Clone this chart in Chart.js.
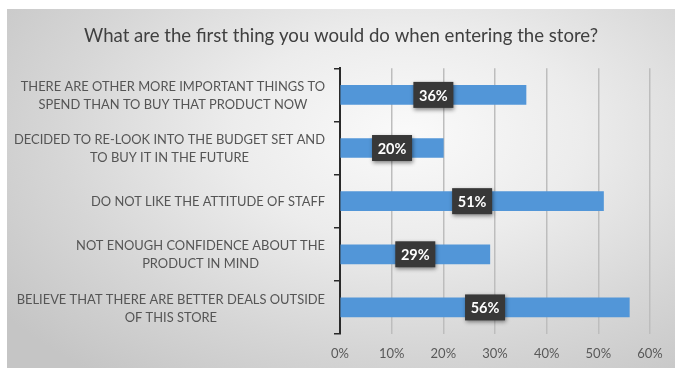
<!DOCTYPE html>
<html>
<head>
<meta charset="utf-8">
<script src="https://cdn.jsdelivr.net/npm/chart.js@4.4.1/dist/chart.umd.min.js"></script>
<style>
  html, body { margin: 0; padding: 0; background: #ffffff; }
  #wrap { position: relative; width: 675px; height: 368px; background: #ffffff; overflow: hidden; }
  #bg { position: absolute; left: 7px; top: 9px; right: 0; bottom: 0;
        background: radial-gradient(ellipse 75% 85% at 60% 35%, #fafafa 0%, #ececec 35%, #d6d6d6 70%, #c5c5c5 100%); }
  #c { position: absolute; left: 0; top: 0; }
</style>
</head>
<body>
<div id="wrap">
  <div id="bg"></div>
  <canvas id="c" width="675" height="368"></canvas>
</div>
<script>
const titleText = 'What are the first thing you would do when entering the store?';
const categories = [
  ['THERE ARE OTHER MORE IMPORTANT THINGS TO', 'SPEND THAN TO BUY THAT PRODUCT NOW'],
  ['DECIDED TO RE-LOOK INTO THE BUDGET SET AND', 'TO BUY IT IN THE FUTURE'],
  ['DO NOT LIKE THE ATTITUDE OF STAFF'],
  ['NOT ENOUGH CONFIDENCE ABOUT THE', 'PRODUCT IN MIND'],
  ['BELIEVE THAT THERE ARE BETTER DEALS OUTSIDE', 'OF THIS STORE']
];
const values = [36, 20, 51, 29, 56];
const xTicks = [0, 10, 20, 30, 40, 50, 60];

const FONT = 'Lato, "Open Sans", sans-serif';

const yLabelPlugin = {
  id: 'yLabels',
  afterDraw(chart) {
    const ctx = chart.ctx;
    const scale = chart.scales.y;
    ctx.save();
    ctx.font = '12.9px ' + FONT;
    ctx.fillStyle = '#555555';
    ctx.textAlign = 'center';
    ctx.textBaseline = 'middle';
    const rightEdge = 325;
    const lh = 18;
    categories.forEach((lines, i) => {
      const y = scale.getPixelForTick(i);
      let maxW = 0;
      lines.forEach(l => { maxW = Math.max(maxW, ctx.measureText(l).width); });
      const cx = rightEdge - maxW / 2;
      const startY = y - (lines.length - 1) * lh / 2 + 1;
      lines.forEach((l, j) => ctx.fillText(l, cx, startY + j * lh));
    });
    ctx.restore();
  }
};

const valueBoxPlugin = {
  id: 'valueBoxes',
  afterDatasetsDraw(chart) {
    const ctx = chart.ctx;
    const meta = chart.getDatasetMeta(0);
    ctx.save();
    meta.data.forEach((bar, i) => {
      const cx = (bar.x + bar.base) / 2;
      const cy = bar.y;
      const w = 40, h = 26;
      ctx.shadowColor = 'rgba(0,0,0,0.45)';
      ctx.shadowBlur = 4;
      ctx.shadowOffsetX = 1;
      ctx.shadowOffsetY = 2;
      ctx.fillStyle = '#383838';
      ctx.fillRect(cx - w / 2, cy - h / 2, w, h);
      ctx.shadowColor = 'transparent';
      ctx.fillStyle = '#ffffff';
      ctx.font = 'bold 14.5px ' + FONT;
      ctx.textAlign = 'center';
      ctx.textBaseline = 'middle';
      ctx.fillText(values[i] + '%', cx, cy + 1);
    });
    ctx.restore();
  }
};

new Chart(document.getElementById('c'), {
  type: 'bar',
  data: {
    labels: categories,
    datasets: [{
      data: values,
      backgroundColor: '#5296d8',
      borderWidth: 0,
      barThickness: 19
    }]
  },
  options: {
    indexAxis: 'y',
    responsive: false,
    animation: false,
    layout: { padding: { left: 32, right: 25, top: 0, bottom: 0 } },
    plugins: {
      legend: { display: false },
      tooltip: { enabled: false },
      title: {
        display: true,
        text: titleText,
        color: '#404040',
        font: { family: FONT, size: 18.6, weight: 'normal' },
        padding: { top: 25, bottom: 21 }
      }
    },
    scales: {
      x: {
        min: 0, max: 60,
        afterBuildTicks(scale) { scale.ticks = xTicks.map(v => ({ value: v })); },
        afterFit(scale) { scale.height = 34; },
        ticks: {
          color: '#595959',
          font: { family: FONT, size: 13 },
          padding: 12,
          callback: v => v + '%'
        },
        grid: { color: '#bdbdbd', lineWidth: 1.5, drawTicks: false },
        border: { display: false }
      },
      y: {
        afterFit(scale) { scale.width = 308; },
        ticks: { display: false },
        grid: { drawOnChartArea: false, drawTicks: true, tickLength: 6, color: '#2a2a2a', lineWidth: 1.5, offset: true },
        border: { display: true, color: '#2a2a2a', width: 2 }
      }
    }
  },
  plugins: [yLabelPlugin, valueBoxPlugin]
});
</script>
</body>
</html>
